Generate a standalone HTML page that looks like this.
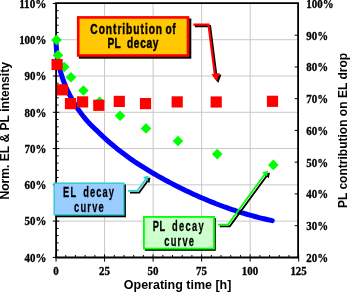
<!DOCTYPE html>
<html><head><meta charset="utf-8"><style>
html,body{margin:0;padding:0;background:#fff;}
svg{display:block;will-change:transform;}
.ser{font-family:"Liberation Serif",serif;font-weight:bold;font-size:11.6px;fill:#000;stroke:#000;stroke-width:0.3px;}
.san{font-family:"Liberation Sans",sans-serif;font-weight:bold;font-size:12px;fill:#000;}
.box{font-family:"Liberation Sans",sans-serif;font-weight:bold;fill:#000;stroke:#000;}
</style></head><body>
<svg width="350" height="292" viewBox="0 0 350 292">
<rect width="350" height="292" fill="#fff"/>
<g stroke="#c8c8c8" stroke-width="1"><line x1="56" y1="39.73" x2="298" y2="39.73"/><line x1="56" y1="76.01" x2="298" y2="76.01"/><line x1="56" y1="112.29" x2="298" y2="112.29"/><line x1="56" y1="148.56" x2="298" y2="148.56"/><line x1="56" y1="184.84" x2="298" y2="184.84"/><line x1="56" y1="221.12" x2="298" y2="221.12"/><line x1="104.57" y1="3" x2="104.57" y2="258"/><line x1="153.10" y1="3" x2="153.10" y2="258"/><line x1="201.62" y1="3" x2="201.62" y2="258"/><line x1="250.15" y1="3" x2="250.15" y2="258"/></g>
<g stroke="#000" stroke-width="1"><line x1="52.8" y1="257.40" x2="59.3" y2="257.40"/><line x1="52.8" y1="221.12" x2="59.3" y2="221.12"/><line x1="52.8" y1="184.84" x2="59.3" y2="184.84"/><line x1="52.8" y1="148.56" x2="59.3" y2="148.56"/><line x1="52.8" y1="112.29" x2="59.3" y2="112.29"/><line x1="52.8" y1="76.01" x2="59.3" y2="76.01"/><line x1="52.8" y1="39.73" x2="59.3" y2="39.73"/><line x1="52.8" y1="3.45" x2="59.3" y2="3.45"/><line x1="56" y1="250.14" x2="58.6" y2="250.14"/><line x1="56" y1="242.89" x2="58.6" y2="242.89"/><line x1="56" y1="235.63" x2="58.6" y2="235.63"/><line x1="56" y1="228.38" x2="58.6" y2="228.38"/><line x1="56" y1="213.87" x2="58.6" y2="213.87"/><line x1="56" y1="206.61" x2="58.6" y2="206.61"/><line x1="56" y1="199.35" x2="58.6" y2="199.35"/><line x1="56" y1="192.10" x2="58.6" y2="192.10"/><line x1="56" y1="177.59" x2="58.6" y2="177.59"/><line x1="56" y1="170.33" x2="58.6" y2="170.33"/><line x1="56" y1="163.08" x2="58.6" y2="163.08"/><line x1="56" y1="155.82" x2="58.6" y2="155.82"/><line x1="56" y1="141.31" x2="58.6" y2="141.31"/><line x1="56" y1="134.05" x2="58.6" y2="134.05"/><line x1="56" y1="126.80" x2="58.6" y2="126.80"/><line x1="56" y1="119.54" x2="58.6" y2="119.54"/><line x1="56" y1="105.03" x2="58.6" y2="105.03"/><line x1="56" y1="97.77" x2="58.6" y2="97.77"/><line x1="56" y1="90.52" x2="58.6" y2="90.52"/><line x1="56" y1="83.26" x2="58.6" y2="83.26"/><line x1="56" y1="68.75" x2="58.6" y2="68.75"/><line x1="56" y1="61.50" x2="58.6" y2="61.50"/><line x1="56" y1="54.24" x2="58.6" y2="54.24"/><line x1="56" y1="46.98" x2="58.6" y2="46.98"/><line x1="56" y1="32.47" x2="58.6" y2="32.47"/><line x1="56" y1="25.22" x2="58.6" y2="25.22"/><line x1="56" y1="17.96" x2="58.6" y2="17.96"/><line x1="56" y1="10.71" x2="58.6" y2="10.71"/><line x1="56.05" y1="254.3" x2="56.05" y2="261.6"/><line x1="104.57" y1="254.3" x2="104.57" y2="261.6"/><line x1="153.10" y1="254.3" x2="153.10" y2="261.6"/><line x1="201.62" y1="254.3" x2="201.62" y2="261.6"/><line x1="250.15" y1="254.3" x2="250.15" y2="261.6"/><line x1="298.68" y1="254.3" x2="298.68" y2="261.6"/><line x1="65.75" y1="255" x2="65.75" y2="257.5"/><line x1="75.46" y1="255" x2="75.46" y2="257.5"/><line x1="85.16" y1="255" x2="85.16" y2="257.5"/><line x1="94.87" y1="255" x2="94.87" y2="257.5"/><line x1="114.28" y1="255" x2="114.28" y2="257.5"/><line x1="123.98" y1="255" x2="123.98" y2="257.5"/><line x1="133.69" y1="255" x2="133.69" y2="257.5"/><line x1="143.39" y1="255" x2="143.39" y2="257.5"/><line x1="162.81" y1="255" x2="162.81" y2="257.5"/><line x1="172.51" y1="255" x2="172.51" y2="257.5"/><line x1="182.22" y1="255" x2="182.22" y2="257.5"/><line x1="191.92" y1="255" x2="191.92" y2="257.5"/><line x1="211.33" y1="255" x2="211.33" y2="257.5"/><line x1="221.04" y1="255" x2="221.04" y2="257.5"/><line x1="230.74" y1="255" x2="230.74" y2="257.5"/><line x1="240.44" y1="255" x2="240.44" y2="257.5"/><line x1="259.86" y1="255" x2="259.86" y2="257.5"/><line x1="269.56" y1="255" x2="269.56" y2="257.5"/><line x1="279.26" y1="255" x2="279.26" y2="257.5"/><line x1="288.97" y1="255" x2="288.97" y2="257.5"/><line x1="294.7" y1="257.40" x2="298" y2="257.40"/><line x1="294.7" y1="225.66" x2="298" y2="225.66"/><line x1="294.7" y1="193.91" x2="298" y2="193.91"/><line x1="294.7" y1="162.17" x2="298" y2="162.17"/><line x1="294.7" y1="130.42" x2="298" y2="130.42"/><line x1="294.7" y1="98.68" x2="298" y2="98.68"/><line x1="294.7" y1="66.94" x2="298" y2="66.94"/><line x1="294.7" y1="35.19" x2="298" y2="35.19"/><line x1="294.7" y1="3.45" x2="298" y2="3.45"/></g>
<path d="M56.1,257.5 V3.2 H298.1 V257.5 Z" fill="none" stroke="#000" stroke-width="1.8"/>
<path d="M56.05,39.73 L56.08,42.28 L56.11,43.38 L56.15,44.24 L56.21,45.48 L56.62,50.98 L57.03,54.62 L57.45,57.54 L57.86,60.05 L58.28,62.28 L58.69,64.31 L59.10,66.18 L59.52,67.92 L59.93,69.56 L60.51,71.71 L61.61,75.39 L62.70,78.70 L63.79,81.72 L64.89,84.53 L65.98,87.15 L67.07,89.61 L68.17,91.94 L69.26,94.16 L70.35,96.28 L71.45,98.30 L72.54,100.25 L73.63,102.12 L74.72,103.93 L75.82,105.68 L76.91,107.37 L78.00,109.01 L79.10,110.60 L80.19,112.15 L81.28,113.66 L82.00,114.63 L84.00,117.22 L86.00,119.63 L88.00,121.88 L90.00,124.00 L92.00,126.02 L94.00,127.96 L96.00,129.82 L98.00,131.79 L100.00,133.73 L102.00,135.62 L104.00,137.48 L106.00,139.29 L108.00,141.07 L110.00,142.82 L112.00,144.52 L114.00,146.20 L116.00,147.84 L118.00,149.44 L120.00,151.02 L122.00,152.56 L124.00,154.07 L126.00,155.56 L128.00,157.01 L130.00,158.44 L132.00,159.84 L134.00,161.22 L136.00,162.57 L138.00,163.90 L140.00,165.20 L142.00,166.48 L144.00,167.74 L146.00,168.99 L148.00,170.21 L150.00,171.41 L152.00,172.59 L154.00,173.76 L156.00,174.91 L158.00,176.05 L160.00,177.17 L162.00,178.28 L164.00,179.37 L166.00,180.46 L168.00,181.53 L170.00,182.59 L172.00,183.64 L174.00,184.68 L176.00,185.71 L178.00,186.72 L180.00,187.72 L182.00,188.71 L184.00,189.69 L186.00,190.66 L188.00,191.61 L190.00,192.56 L192.00,193.49 L194.00,194.41 L196.00,195.32 L198.00,196.21 L200.00,197.09 L202.00,197.96 L204.00,198.82 L206.00,199.67 L208.00,200.50 L210.00,201.33 L212.00,202.14 L214.00,202.93 L216.00,203.72 L218.00,204.49 L220.00,205.25 L222.00,206.00 L224.00,206.74 L226.00,207.46 L228.00,208.17 L230.00,208.87 L232.00,209.56 L234.00,210.23 L236.00,210.89 L238.00,211.54 L240.00,212.17 L242.00,212.79 L244.00,213.40 L246.00,214.00 L248.00,214.58 L250.00,215.16 L252.00,215.71 L254.00,216.26 L256.00,216.79 L258.00,217.31 L260.00,217.82 L262.00,218.31 L264.00,218.79 L266.00,219.26 L268.00,219.71 L270.00,220.16 L272.00,220.58 L272.20,220.63" fill="none" stroke="#0000ff" stroke-width="5" stroke-linecap="round" stroke-linejoin="round"/>
<g fill="#00ff00"><path d="M56.5,34.6 L61.8,39.9 L56.5,45.2 L51.2,39.9Z"/><path d="M57.9,50.0 L63.2,55.3 L57.9,60.6 L52.6,55.3Z"/><path d="M64.2,61.7 L69.5,67.0 L64.2,72.3 L58.9,67.0Z"/><path d="M71.0,71.9 L76.3,77.2 L71.0,82.5 L65.7,77.2Z"/><path d="M83.4,85.2 L88.7,90.5 L83.4,95.8 L78.1,90.5Z"/><path d="M99.6,96.5 L104.9,101.8 L99.6,107.1 L94.3,101.8Z"/><path d="M120.1,110.5 L125.4,115.8 L120.1,121.1 L114.8,115.8Z"/><path d="M146.0,123.1 L151.3,128.4 L146.0,133.7 L140.7,128.4Z"/><path d="M178.0,135.7 L183.3,141.0 L178.0,146.3 L172.7,141.0Z"/><path d="M217.2,148.8 L222.5,154.1 L217.2,159.4 L211.9,154.1Z"/><path d="M273.3,159.6 L278.6,164.9 L273.3,170.2 L268.0,164.9Z"/></g>
<g fill="#ff0000"><rect x="51.5" y="58.9" width="11.2" height="11.2"/><rect x="56.8" y="84.2" width="11.2" height="11.2"/><rect x="64.9" y="98.0" width="11.2" height="11.2"/><rect x="77.0" y="96.3" width="11.2" height="11.2"/><rect x="93.2" y="99.7" width="11.2" height="11.2"/><rect x="113.7" y="95.8" width="11.2" height="11.2"/><rect x="139.9" y="98.0" width="11.2" height="11.2"/><rect x="171.6" y="96.3" width="11.2" height="11.2"/><rect x="210.6" y="96.4" width="11.2" height="11.2"/><rect x="266.9" y="95.7" width="11.2" height="11.2"/></g>
<g class="ser"><text x="46.4" y="261.7" text-anchor="end" textLength="21.81" lengthAdjust="spacingAndGlyphs">40%</text><text x="46.4" y="225.4" text-anchor="end" textLength="21.81" lengthAdjust="spacingAndGlyphs">50%</text><text x="46.4" y="189.1" text-anchor="end" textLength="21.81" lengthAdjust="spacingAndGlyphs">60%</text><text x="46.4" y="152.9" text-anchor="end" textLength="21.81" lengthAdjust="spacingAndGlyphs">70%</text><text x="46.4" y="116.6" text-anchor="end" textLength="21.81" lengthAdjust="spacingAndGlyphs">80%</text><text x="46.4" y="80.3" text-anchor="end" textLength="21.81" lengthAdjust="spacingAndGlyphs">90%</text><text x="46.4" y="44.0" text-anchor="end" textLength="27.26" lengthAdjust="spacingAndGlyphs">100%</text><text x="46.4" y="7.8" text-anchor="end" textLength="27.26" lengthAdjust="spacingAndGlyphs">110%</text><text x="306.3" y="261.8" textLength="21.81" lengthAdjust="spacingAndGlyphs">20%</text><text x="306.3" y="230.1" textLength="21.81" lengthAdjust="spacingAndGlyphs">30%</text><text x="306.3" y="198.3" textLength="21.81" lengthAdjust="spacingAndGlyphs">40%</text><text x="306.3" y="166.6" textLength="21.81" lengthAdjust="spacingAndGlyphs">50%</text><text x="306.3" y="134.8" textLength="21.81" lengthAdjust="spacingAndGlyphs">60%</text><text x="306.3" y="103.1" textLength="21.81" lengthAdjust="spacingAndGlyphs">70%</text><text x="306.3" y="71.3" textLength="21.81" lengthAdjust="spacingAndGlyphs">80%</text><text x="306.3" y="39.6" textLength="21.81" lengthAdjust="spacingAndGlyphs">90%</text><text x="306.3" y="7.9" textLength="27.26" lengthAdjust="spacingAndGlyphs">100%</text><text x="55.9" y="275.2" text-anchor="middle" textLength="5.45" lengthAdjust="spacingAndGlyphs">0</text><text x="104.5" y="275.2" text-anchor="middle" textLength="10.90" lengthAdjust="spacingAndGlyphs">25</text><text x="153.0" y="275.2" text-anchor="middle" textLength="10.90" lengthAdjust="spacingAndGlyphs">50</text><text x="201.5" y="275.2" text-anchor="middle" textLength="10.90" lengthAdjust="spacingAndGlyphs">75</text><text x="250.0" y="275.2" text-anchor="middle" textLength="16.36" lengthAdjust="spacingAndGlyphs">100</text><text x="298.6" y="275.2" text-anchor="middle" textLength="16.36" lengthAdjust="spacingAndGlyphs">125</text></g>
<text class="san" style="font-size:13px" transform="translate(8.9,199.6) rotate(-90)" textLength="137.6" lengthAdjust="spacingAndGlyphs">Norm. EL &amp; PL intensity</text>
<text class="san" style="font-size:12.5px" transform="translate(347,208.1) rotate(-90)" textLength="155.2" lengthAdjust="spacingAndGlyphs">PL contribution on EL drop</text>
<text class="san" style="font-size:12.5px" x="123.8" y="288.8" textLength="107.6" lengthAdjust="spacingAndGlyphs">Operating time [h]</text>

<!-- contribution box -->
<rect x="78.9" y="18.5" width="112.4" height="40.2" fill="#000"/>
<rect x="78.2" y="17.4" width="109.8" height="38.1" fill="#ffc800" stroke="#ff0000" stroke-width="2.6"/>
<g style="font-size:15px;stroke-width:0.45px"><text class="box" transform="translate(90.3,34.2) scale(0.68,1)" textLength="105.59" lengthAdjust="spacing">Contribution</text><text class="box" transform="translate(165.5,34.2) scale(0.68,1)" textLength="15.00" lengthAdjust="spacing">of</text><text class="box" transform="translate(107.5,48.1) scale(0.68,1)" textLength="19.41" lengthAdjust="spacing">PL</text><text class="box" transform="translate(127,48.1) scale(0.68,1)" textLength="46.32" lengthAdjust="spacing">decay</text></g>
<!-- red arrow -->
<g transform="translate(1.5,1.5)"><path d="M193.4,24.6 H208.5 L214.9,75" fill="none" stroke="#000" stroke-width="2.2"/><path d="M211.5,74.2 L216.8,81.4 L219.9,73.1Z" fill="#000"/></g>
<path d="M193.4,24.6 H208.5 L214.9,75" fill="none" stroke="#ff0000" stroke-width="2.2"/><path d="M211.5,74.2 L216.8,81.4 L219.9,73.1Z" fill="#ff0000"/>

<!-- EL box -->
<rect x="55.5" y="184.5" width="70.4" height="32.8" fill="#000"/>
<rect x="54.2" y="183.2" width="69.6" height="31.6" fill="#99ccff" stroke="#33cccc" stroke-width="1.5"/>
<g style="font-size:15px;stroke-width:0.25px"><text class="box" transform="translate(63.1,196.9) scale(0.62,1)" textLength="21.29" lengthAdjust="spacing">EL</text><text class="box" transform="translate(83.2,196.9) scale(0.62,1)" textLength="49.68" lengthAdjust="spacing">decay</text><text class="box" transform="translate(74,212.3) scale(0.62,1)" textLength="47.90" lengthAdjust="spacing">curve</text></g>
<g transform="translate(1.8,1.8)"><path d="M128.1,190.8 H137.4 L146,179" fill="none" stroke="#000" stroke-width="1.8"/><path d="M143,177 L148.7,175.7 L147.5,181.5Z" fill="#000"/></g>
<path d="M128.1,190.8 H137.4 L146,179" fill="none" stroke="#33cccc" stroke-width="1.8"/><path d="M143,177 L148.7,175.7 L147.5,181.5Z" fill="#33cccc"/>

<!-- PL box -->
<rect x="144.8" y="218" width="71" height="32.8" fill="#000"/>
<rect x="143.9" y="216.9" width="70.1" height="31.7" fill="#ccffcc" stroke="#00ff00" stroke-width="1.8"/>
<g style="font-size:15px;stroke-width:0.25px"><text class="box" transform="translate(152.8,230.6) scale(0.62,1)" textLength="20.00" lengthAdjust="spacing">PL</text><text class="box" transform="translate(172,230.6) scale(0.62,1)" textLength="51.13" lengthAdjust="spacing">decay</text><text class="box" transform="translate(164.3,245.5) scale(0.62,1)" textLength="47.90" lengthAdjust="spacing">curve</text></g>
<g transform="translate(1.8,1.8)"><path d="M218,224.6 H228 L265,174" fill="none" stroke="#000" stroke-width="1.8"/><path d="M262,172.5 L268.1,170.7 L267,176.5Z" fill="#000"/></g>
<path d="M218,224.6 H228 L265,174" fill="none" stroke="#00ff00" stroke-width="1.8"/><path d="M262,172.5 L268.1,170.7 L267,176.5Z" fill="#00ff00"/>
</svg>
</body></html>
